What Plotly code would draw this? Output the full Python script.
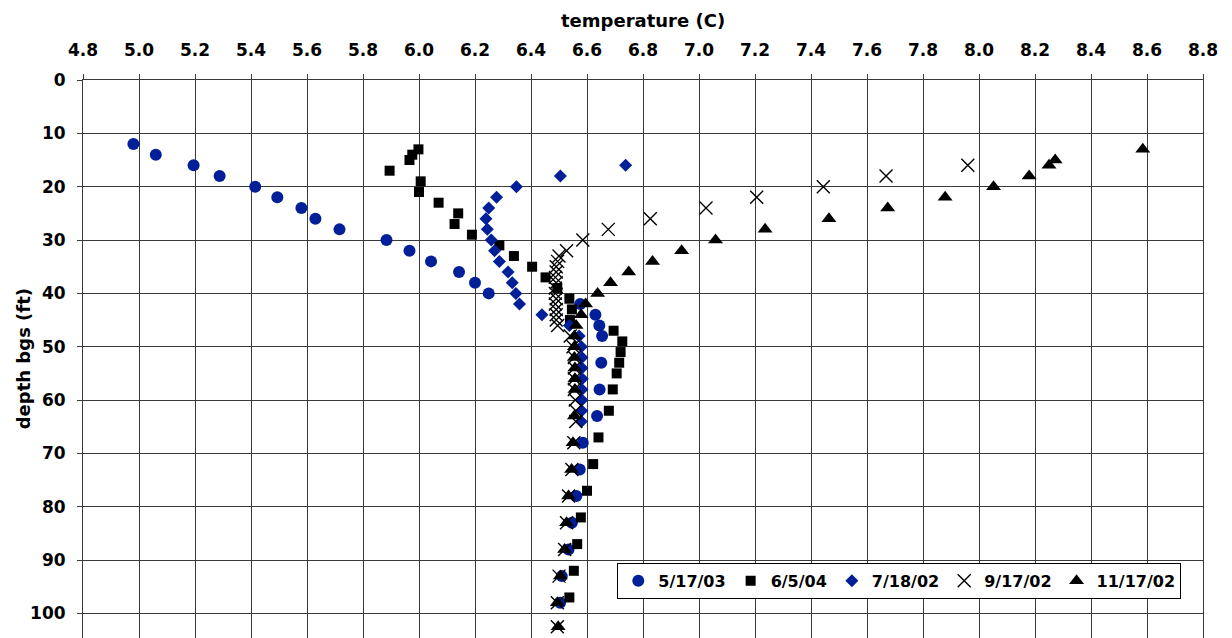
import plotly.graph_objects as go

# ---- data (temperature in C, depth bgs in ft) ----
d_051703 = [12, 14, 16, 18, 20, 22, 24, 26, 28, 30, 32, 34, 36, 38, 40, 42, 44, 46, 48,
            53, 58, 63, 68, 73, 78, 83, 88, 93, 98]
t_051703 = [4.98, 5.06, 5.195, 5.288, 5.415, 5.494, 5.58, 5.63, 5.716, 5.884, 5.966, 6.043,
            6.143, 6.2, 6.249, 6.576, 6.63, 6.644, 6.654, 6.651, 6.645, 6.636, 6.585, 6.574,
            6.562, 6.546, 6.534, 6.51, 6.504]

d_060504 = [13, 14, 15, 17, 19, 21, 23, 25, 27, 29, 31, 33, 35, 37, 39, 41, 43, 45, 47, 49,
            51, 53, 55, 58, 62, 67, 72, 77, 82, 87, 92, 97]
t_060504 = [5.998, 5.976, 5.966, 5.895, 6.006, 6.0, 6.07, 6.14, 6.127, 6.189, 6.287, 6.339,
            6.404, 6.452, 6.494, 6.537, 6.546, 6.539, 6.695, 6.726, 6.72, 6.715, 6.706, 6.692,
            6.678, 6.641, 6.622, 6.6, 6.578, 6.565, 6.553, 6.537]

d_071802 = [16, 18, 20, 22, 24, 26, 28, 30, 32, 34, 36, 38, 40, 42, 44, 46, 48, 50, 52, 54,
            56, 58, 60, 62, 64]
t_071802 = [6.738, 6.505, 6.348, 6.277, 6.249, 6.239, 6.244, 6.258, 6.27, 6.287, 6.318, 6.333,
            6.346, 6.359, 6.439, 6.537, 6.572, 6.58, 6.582, 6.582, 6.583, 6.582, 6.582, 6.581,
            6.58]

d_091702 = [16, 18, 20, 22, 24, 26, 28, 30, 32, 33, 34, 35, 36, 37, 38, 39, 40, 41, 42, 43,
            44, 45, 46, 48, 50, 52, 54, 56, 58, 60, 62, 64, 68, 73, 78, 83, 88, 93, 98, 102.5]
t_091702 = [7.96, 7.668, 7.444, 7.206, 7.025, 6.826, 6.676, 6.585, 6.527, 6.50, 6.495, 6.49,
            6.49, 6.487, 6.49, 6.487, 6.487, 6.49, 6.487, 6.49, 6.49, 6.49, 6.495, 6.54, 6.55,
            6.555, 6.555, 6.555, 6.555, 6.558, 6.56, 6.56, 6.553, 6.546, 6.534, 6.527, 6.52,
            6.5, 6.494, 6.494]

d_111702 = [13, 15, 16, 18, 20, 22, 24, 26, 28, 30, 32, 34, 36, 38, 40, 42, 44, 46, 48, 50,
            52, 54, 56, 58, 63, 68, 73, 78, 83, 88, 93, 98, 102.5]
t_111702 = [8.585, 8.272, 8.25, 8.179, 8.052, 7.879, 7.674, 7.464, 7.236, 7.059, 6.938, 6.834,
            6.749, 6.684, 6.638, 6.595, 6.579, 6.561, 6.555, 6.555, 6.555, 6.557, 6.557, 6.557,
            6.555, 6.55, 6.545, 6.534, 6.527, 6.52, 6.505, 6.494, 6.497]

x_ticks = [4.8, 5.0, 5.2, 5.4, 5.6, 5.8, 6.0, 6.2, 6.4, 6.6, 6.8, 7.0, 7.2, 7.4, 7.6, 7.8,
           8.0, 8.2, 8.4, 8.6, 8.8]
y_ticks = [0, 10, 20, 30, 40, 50, 60, 70, 80, 90, 100]

BLUE = "#001f99"
BLACK = "#000000"
FONT = "DejaVu Sans"

fig = go.Figure()
series = [
    ("5/17/03", t_051703, d_051703, dict(symbol="circle", size=12, color=BLUE)),
    ("6/5/04", t_060504, d_060504, dict(symbol="square", size=10, color=BLACK)),
    ("7/18/02", t_071802, d_071802, dict(symbol="diamond", size=10, color=BLUE)),
    ("9/17/02", t_091702, d_091702, dict(symbol="x-thin-open", size=13, color=BLACK,
                                         line=dict(color=BLACK, width=1.4))),
    ("11/17/02", t_111702, d_111702, dict(symbol="triangle-up", size=13, color=BLACK)),
]
for name, xs, ys, mk in series:
    fig.add_trace(go.Scatter(x=xs, y=ys, mode="markers", name=name, marker=mk,
                             cliponaxis=False))

# page body has an 8px offset; plot area spans x 82.7..1202.7, y 80..638 on the page
fig.update_layout(
    width=1232, height=638,
    margin=dict(l=74.7, r=37.3, t=72, b=8, autoexpand=False),
    paper_bgcolor="white", plot_bgcolor="white",
    font=dict(family=FONT, color="black"),
    showlegend=True,
    legend=dict(orientation="h", x=0.9806, xanchor="right", y=0.07, yanchor="bottom",
                bgcolor="white", bordercolor="black", borderwidth=1,
                font=dict(family=FONT, size=16, color="black", weight="bold"),
                itemwidth=30, tracegroupgap=0),
)
fig.update_xaxes(
    side="top", range=[4.8, 8.8], tickvals=x_ticks,
    ticktext=[f"{v:.1f}" for v in x_ticks], automargin=False,
    showgrid=True, gridcolor="#3a3a3a", gridwidth=1,
    showline=True, linecolor="#3a3a3a", linewidth=1, mirror=True,
    ticks="outside", ticklen=5, tickcolor="#3a3a3a", ticklabelstandoff=11,
    tickfont=dict(family=FONT, size=17, color="black", weight="bold"),
    zeroline=False,
)
fig.update_yaxes(
    range=[104.6, 0], tickvals=y_ticks, automargin=False,
    showgrid=True, gridcolor="#3a3a3a", gridwidth=1,
    showline=True, linecolor="#3a3a3a", linewidth=1, mirror=True,
    ticks="outside", ticklen=5, tickcolor="#3a3a3a", ticklabelstandoff=8,
    tickfont=dict(family=FONT, size=17, color="black", weight="bold"),
    zeroline=False,
)
fig.add_annotation(text="temperature (C)", xref="paper", yref="paper", x=0.5,
                   y=1 + 71.5 / 558, xanchor="center", yanchor="top", showarrow=False,
                   borderpad=0,
                   font=dict(family=FONT, size=18, color="black", weight="bold"))
fig.add_annotation(text="depth bgs (ft)", xref="paper", yref="paper", x=(23 - 82.7) / 1120,
                   y=1 - (359 - 80) / 558, textangle=-90, xanchor="center", yanchor="middle",
                   showarrow=False,
                   font=dict(family=FONT, size=18, color="black", weight="bold"))

fig.write_html("out.html")
